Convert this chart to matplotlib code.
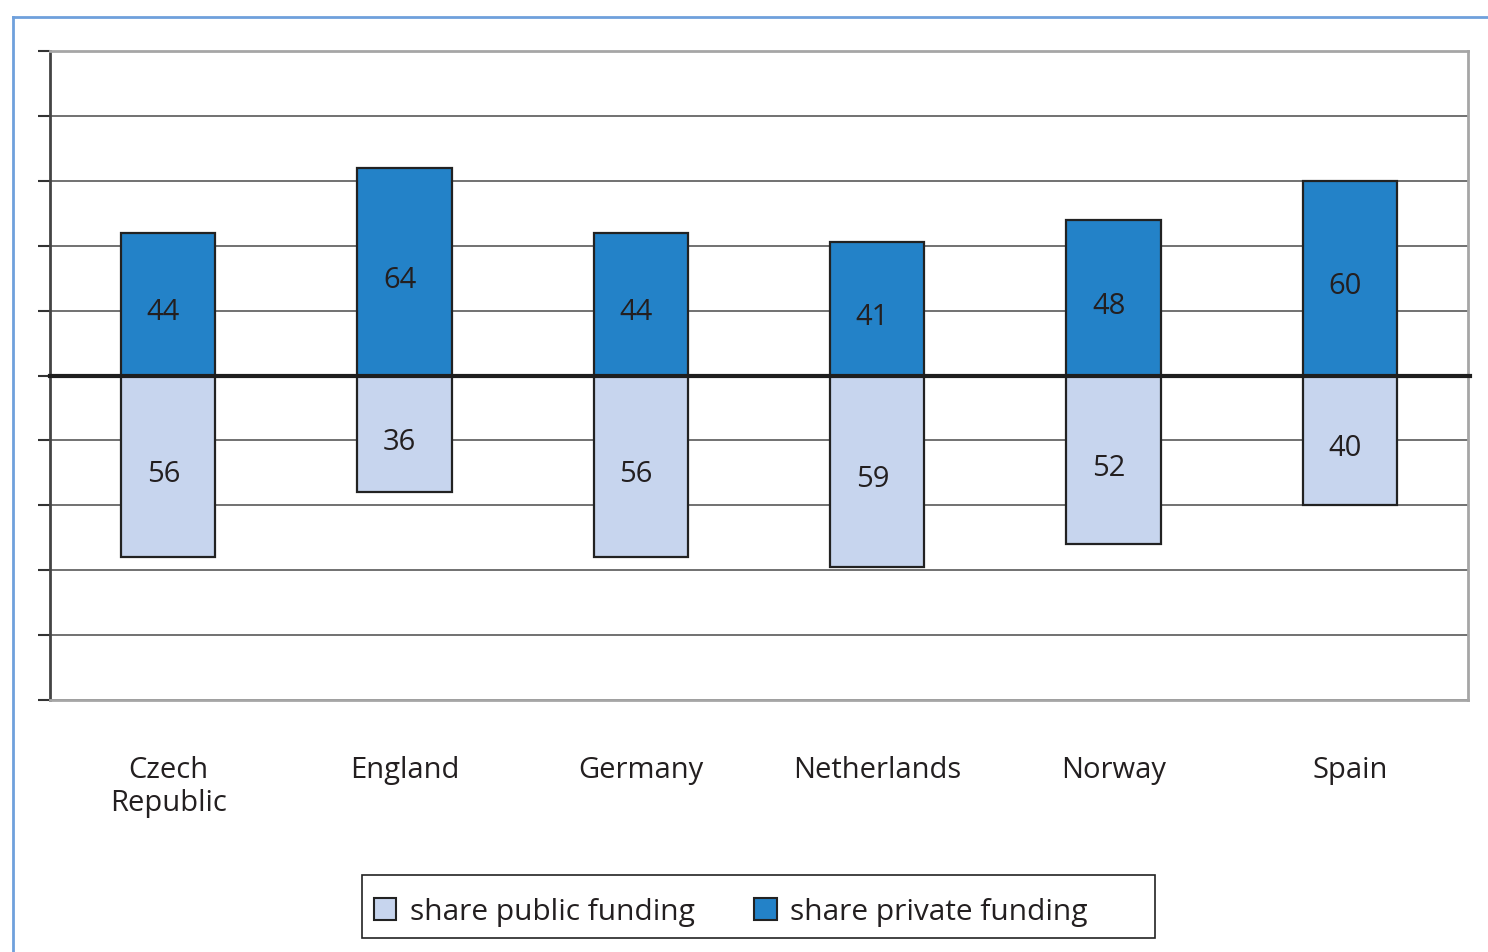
import matplotlib
matplotlib.use("Agg")
import matplotlib.pyplot as plt
from matplotlib.lines import Line2D
from matplotlib.patches import Patch, Rectangle

categories = ["Czech\nRepublic", "England", "Germany", "Netherlands", "Norway", "Spain"]
public_share = [56, 36, 56, 59, 52, 40]
private_share = [44, 64, 44, 41, 48, 60]
legend_labels = ["share public funding", "share private funding"]
yticks = [-100, -80, -60, -40, -20, 0, 20, 40, 60, 80, 100]

plt.rcParams['font.family'] = ['Open Sans', 'DejaVu Sans']
TXT = '#231f20'
C_PRIV = '#2382c8'
C_PUB = '#c7d5ee'

W, H = 1488, 953
fig = plt.figure(figsize=(W / 100, H / 100), dpi=100)
ax = fig.add_axes([50 / W, 1 - 701 / H, (1468 - 50) / W, (701 - 52) / H])

x = list(range(len(categories)))
bw = 0.40
ax.bar(x, private_share, width=bw, color=C_PRIV, edgecolor='#222222', linewidth=1.6, zorder=3)
ax.bar(x, [-v for v in public_share], width=bw, color=C_PUB, edgecolor='#222222', linewidth=1.6, zorder=3)

for xi, pv, pu in zip(x, private_share, public_share):
    ax.text(xi - 0.02, pv / 2 - 2.3, str(pv), ha='center', va='center', fontsize=21, color=TXT, zorder=5)
    ax.text(xi - 0.02, -pu / 2 - 2.3, str(pu), ha='center', va='center', fontsize=21, color=TXT, zorder=5)

ax.set_xlim(-0.5, len(categories) - 0.5)
ax.set_ylim(-100, 100)
ax.set_yticks(yticks)
ax.tick_params(axis='y', labelleft=False, length=9, width=1.5, color='#333333', direction='out')
ax.set_xticks(x)
ax.set_xticklabels(categories, fontsize=21, color=TXT, linespacing=1.2)
ax.tick_params(axis='x', length=0, pad=39.5)
ax.yaxis.grid(True, color='#4a4a4a', linewidth=1.1, zorder=0)
ax.set_axisbelow(True)

ax.axhline(0, xmin=0, xmax=1.0015, color='#1e1e1e', linewidth=3, zorder=4, clip_on=False)

for s in ['top', 'right', 'bottom']:
    ax.spines[s].set_color('#a6a6a6')
    ax.spines[s].set_linewidth(2)
ax.spines['left'].set_color('#444444')
ax.spines['left'].set_linewidth(2)

handles = [Patch(facecolor=C_PUB, edgecolor='#222222', linewidth=1.5),
           Patch(facecolor=C_PRIV, edgecolor='#222222', linewidth=1.5)]
leg = fig.legend(handles, legend_labels, loc='center left', bbox_to_anchor=(362 / W, 1 - 913 / H),
                 ncol=2, fontsize=21.5, frameon=False, handlelength=0.75, handleheight=0.75,
                 columnspacing=2.0, handletextpad=0.45, borderpad=0.4, borderaxespad=0)
for t in leg.get_texts():
    t.set_color(TXT)
fig.add_artist(Rectangle((362 / W, 1 - 939 / H), (1155 - 362) / W, (939 - 876) / H,
                         transform=fig.transFigure, fill=False, edgecolor='#222222', linewidth=1.2))

bc = '#6fa0dc'
fig.add_artist(Line2D([13 / W, 1], [1 - 18 / H, 1 - 18 / H], color=bc, linewidth=2, transform=fig.transFigure))
fig.add_artist(Line2D([13 / W, 13 / W], [0, 1 - 18 / H], color=bc, linewidth=2, transform=fig.transFigure))

fig.savefig("out.png", dpi=100)
